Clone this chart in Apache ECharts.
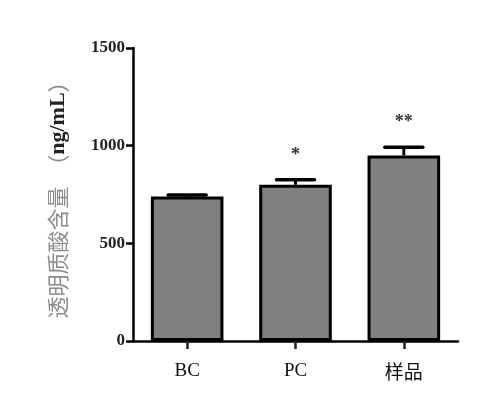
<!DOCTYPE html>
<html>
<head>
<meta charset="utf-8">
<script src="https://cdn.jsdelivr.net/npm/echarts@6/dist/echarts.min.js"></script>
<style>html,body{margin:0;padding:0;background:#fff}#c{width:501px;height:397px}</style>
</head>
<body>
<div id="c"></div>
<script>
var categories = ['BC', 'PC', '样品'];
var means = [740, 800, 950];
var errors = [8, 25, 42];
var marks = ['', '*', '**'];
var yTicks = [0, 500, 1000, 1500];

var chart = echarts.init(document.getElementById('c'));
chart.setOption({
  animation: false,
  grid: {left: 133, right: 43, top: 48, bottom: 56},
  xAxis: {
    type: 'category',
    data: categories,
    axisLine: {lineStyle: {color: '#000', width: 2.5}},
    axisTick: {show: true, alignWithLabel: true, length: 8, lineStyle: {color: '#222', width: 2.5}},
    axisLabel: {
      margin: 21, color: '#111', fontSize: 19,
      fontFamily: 'Liberation Serif',
      formatter: function (v) { return v === '样品' ? '{cjk|' + v + '}' : v; },
      rich: {cjk: {fontFamily: 'Noto Sans CJK SC', fontSize: 19, color: '#111'}}
    }
  },
  yAxis: {
    type: 'value', min: 0, max: 1500, interval: 500,
    splitLine: {show: false},
    axisLine: {show: true, lineStyle: {color: '#000', width: 2.5}},
    axisTick: {show: true, length: 7, lineStyle: {color: '#000', width: 2.5}},
    axisLabel: {
      margin: 8, color: '#222', fontSize: 17, fontWeight: 'bold',
      fontFamily: 'Liberation Serif',
      formatter: function (v) { return yTicks.indexOf(v) >= 0 ? String(v) : ''; }
    },
    name: '{g|透明质酸含量  （}{b|ng/mL}{g|）}',
    nameLocation: 'middle',
    nameRotate: 90,
    nameGap: 64,
    nameTextStyle: {
      rich: {
        g: {fontFamily: 'Noto Sans CJK SC', fontSize: 22, color: '#8c8c8c'},
        b: {fontFamily: 'Liberation Serif', fontSize: 22, fontWeight: 'bold', color: '#222'}
      }
    }
  },
  series: [
    {
      type: 'bar',
      data: means,
      barWidth: '67%',
      itemStyle: {color: '#808080', borderColor: '#000', borderWidth: 3}
    },
    {
      type: 'custom',
      data: means.map(function (m, i) { return [i, m, m + errors[i]]; }),
      z: 1,
      renderItem: function (params, api) {
        var i = api.value(0);
        var top = api.coord([i, api.value(1)]);
        var cap = api.coord([i, api.value(2)]);
        var half = 19;
        var children = [
          {type: 'line', shape: {x1: top[0], y1: top[1], x2: cap[0], y2: cap[1]}, style: {stroke: '#000', lineWidth: 3}},
          {type: 'line', shape: {x1: cap[0] - half, y1: cap[1], x2: cap[0] + half, y2: cap[1]}, style: {stroke: '#000', lineWidth: 3.5, lineCap: 'round'}}
        ];
        var m = marks[params.dataIndex];
        if (m) {
          children.push({type: 'text', style: {text: m, x: cap[0], y: cap[1] - 25, align: 'center', verticalAlign: 'middle', fontSize: 18, fontFamily: 'Liberation Serif', fontWeight: 'bold', fill: '#333'}});
        }
        return {type: 'group', children: children};
      }
    }
  ]
});
</script>
</body>
</html>
